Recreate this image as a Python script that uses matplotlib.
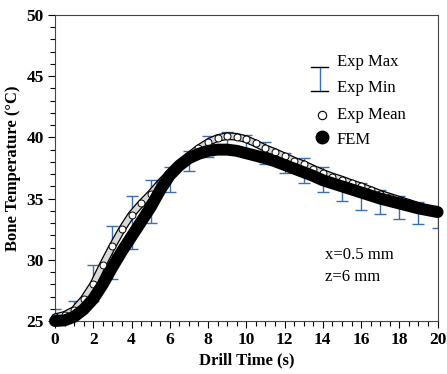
import matplotlib
matplotlib.use("Agg")
import matplotlib.pyplot as plt
from matplotlib.ticker import MultipleLocator

plt.rcParams["font.family"] = ["Liberation Serif", "DejaVu Serif"]

# experimental max / min at each second
bar_time = [0, 1, 2, 3, 4, 5, 6, 7, 8, 9, 10, 11, 12, 13, 14, 15, 16, 17, 18, 19, 20]
exp_max = [26.0, 26.6, 29.6, 32.75, 35.2, 36.5, 37.6, 38.9, 40.1, 40.45, 40.2, 39.65,
           38.75, 38.3, 37.55, 36.7, 36.3, 35.7, 35.2, 34.7, 34.4]
exp_min = [25.0, 25.7, 26.65, 28.45, 30.9, 33.0, 35.5, 37.25, 38.4, 39.0, 38.9, 37.8,
           37.05, 36.25, 35.5, 34.8, 34.1, 33.77, 33.33, 32.95, 32.6]

# experimental mean and FEM curve, every 0.5 s
time = [0, 0.5, 1, 1.5, 2, 2.5, 3, 3.5, 4, 4.5, 5, 5.5, 6, 6.5, 7, 7.5, 8, 8.5, 9, 9.5,
        10, 10.5, 11, 11.5, 12, 12.5, 13, 13.5, 14, 14.5, 15, 15.5, 16, 16.5, 17, 17.5,
        18, 18.5, 19, 19.5, 20]
exp_mean = [25.3, 25.5, 25.9, 26.8, 28.0, 29.6, 31.1, 32.5, 33.7, 34.6, 35.4, 36.3,
            37.1, 37.8, 38.5, 39.1, 39.6, 39.95, 40.1, 40.05, 39.85, 39.5, 39.1, 38.8,
            38.45, 38.1, 37.8, 37.45, 37.1, 36.8, 36.55, 36.25, 36.0, 35.7, 35.4, 35.15,
            34.9, 34.65, 34.4, 34.15, 33.9]
fem = [25.0, 25.05, 25.35, 25.95, 26.8, 28.0, 29.4, 30.7, 31.9, 33.1, 34.3, 35.7,
       36.9, 37.7, 38.3, 38.65, 38.9, 39.0, 39.0, 38.9, 38.7, 38.5, 38.3, 38.05,
       37.75, 37.45, 37.15, 36.85, 36.5, 36.25, 36.0, 35.75, 35.5, 35.25, 35.0, 34.8,
       34.6, 34.4, 34.2, 34.05, 33.9]

fig = plt.figure(figsize=(4.47, 3.74), dpi=100)
ax = fig.add_axes([0.123, 0.1417, 0.856, 0.8183])

mid = [(a + b) / 2 for a, b in zip(exp_max, exp_min)]
err = [[m - b for m, b in zip(mid, exp_min)], [a - m for a, m in zip(exp_max, mid)]]
eb = ax.errorbar(bar_time, mid, yerr=err, fmt="none", ecolor="#3b6fb0", elinewidth=1.0,
                 capsize=4.3, capthick=1.0, zorder=2)
for cl in eb[1]:
    cl.set_color("black")

# exp mean: band of hollow circles
ax.plot(time, exp_mean, color="black", lw=5.6, solid_capstyle="round", zorder=3, clip_on=False)
ax.plot(time, exp_mean, color="#d8d8d8", lw=3.8, solid_capstyle="round", zorder=3, clip_on=False)
ax.plot(time, exp_mean, ls="none", marker="o", ms=5, mfc="white", mec="black", mew=0.7,
        zorder=3, clip_on=False)

# FEM: dense filled circles -> thick black band
ax.plot(time, fem, color="black", lw=8.6, solid_capstyle="round", zorder=4, clip_on=False)

ax.set_xlim(0, 20)
ax.set_ylim(25, 50)
ax.xaxis.set_major_locator(MultipleLocator(2))
ax.xaxis.set_minor_locator(MultipleLocator(0.5))
ax.yaxis.set_major_locator(MultipleLocator(5))
ax.yaxis.set_minor_locator(MultipleLocator(1))
ax.tick_params(which="major", length=5, width=0.8, labelsize=12.5, pad=3)
ax.tick_params(which="minor", length=3.5, width=0.8)
for lab in ax.get_xticklabels() + ax.get_yticklabels():
    lab.set_fontweight("bold")
for sp in ax.spines.values():
    sp.set_color("#444444")
    sp.set_linewidth(0.8)

ax.set_xlabel("Drill Time (s)", fontsize=12, fontweight="bold", labelpad=3)
ax.set_ylabel("Bone Temperature (\u00b0C)", fontsize=12, fontweight="bold", labelpad=4)

# legend drawn by hand
tr = ax.transAxes
ax.plot([0.692, 0.692], [0.752, 0.83], color="#3b6fb0", lw=1.0, transform=tr)
ax.plot([0.67, 0.714], [0.83, 0.83], color="black", lw=1.0, transform=tr)
ax.plot([0.67, 0.714], [0.752, 0.752], color="black", lw=1.0, transform=tr)
ax.plot([0.698], [0.673], marker="o", ms=6, mfc="white", mec="black", mew=0.8, transform=tr)
ax.plot([0.698], [0.602], marker="o", ms=9, color="black", transform=tr)
for label, yy in [("Exp Max", 0.846), ("Exp Min", 0.762), ("Exp Mean", 0.673), ("FEM", 0.59)]:
    ax.text(0.737, yy, label, transform=tr, fontsize=12, va="center", ha="left")

ax.text(0.706, 0.216, "x=0.5 mm", transform=tr, fontsize=12, va="center")
ax.text(0.706, 0.145, "z=6 mm", transform=tr, fontsize=12, va="center")

fig.savefig("out.png", dpi=100)
